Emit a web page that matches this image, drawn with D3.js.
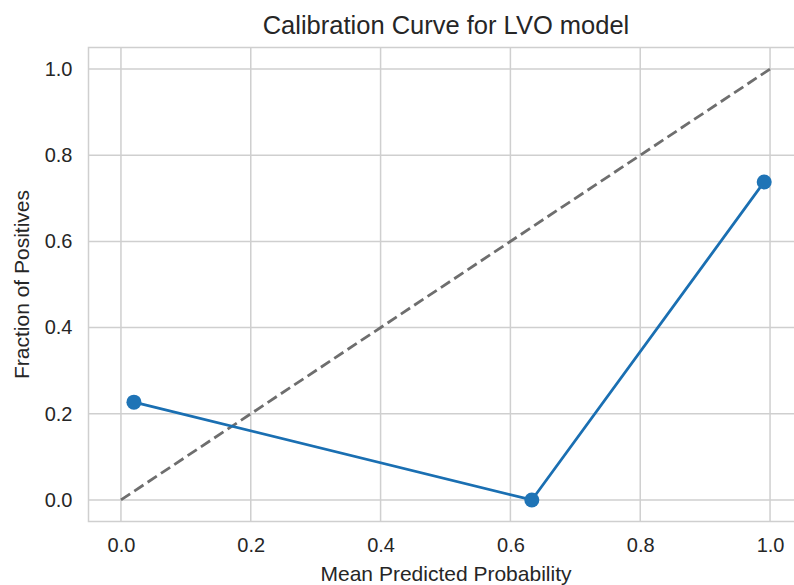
<!DOCTYPE html>
<html>
<head>
<meta charset="utf-8">
<script src="https://cdn.jsdelivr.net/npm/d3@7"></script>
<style>
  body { margin: 0; background: #fff; }
  text { font-family: "Liberation Sans", Arial, sans-serif; fill: #262626; }
</style>
</head>
<body>
<div id="chart"></div>
<script>
// calibration points
var meanPredicted = [0.02, 0.633, 0.991];
var fractionPositives = [0.227, 0.0, 0.738];
var perfectLine = [0, 1];
var xTicks = [0.0, 0.2, 0.4, 0.6, 0.8, 1.0];
var yTicks = [0.0, 0.2, 0.4, 0.6, 0.8, 1.0];

var width = 794, height = 585;
var margin = {left: 88.5, right: -8.5, top: 47.5, bottom: 63.5};

var svg = d3.select("#chart").append("svg")
  .attr("width", width)
  .attr("height", height);

var x = d3.scaleLinear().domain([-0.05, 1.05])
  .range([margin.left, width - margin.right]);
var y = d3.scaleLinear().domain([-0.05, 1.05])
  .range([height - margin.bottom, margin.top]);

// grid
var grid = svg.append("g");
grid.selectAll(".gx").data(xTicks).enter().append("line")
  .attr("x1", d => x(d)).attr("x2", d => x(d))
  .attr("y1", y(-0.05)).attr("y2", y(1.05))
  .style("stroke", "#cfcfcf").style("stroke-width", 1.5);
grid.selectAll(".gy").data(yTicks).enter().append("line")
  .attr("x1", x(-0.05)).attr("x2", x(1.05))
  .attr("y1", d => y(d)).attr("y2", d => y(d))
  .style("stroke", "#cfcfcf").style("stroke-width", 1.5);

// frame
svg.append("rect")
  .attr("x", x(-0.05)).attr("y", y(1.05))
  .attr("width", x(1.05) - x(-0.05))
  .attr("height", y(-0.05) - y(1.05))
  .attr("fill", "none")
  .style("stroke", "#cfcfcf").style("stroke-width", 1.5);

// axes (text only, matplotlib style with no tick marks)
var xAxis = svg.append("g")
  .attr("transform", "translate(0," + (y(-0.05) + 8) + ")")
  .call(d3.axisBottom(x).tickValues(xTicks).tickFormat(d3.format(".1f")).tickSize(0).tickPadding(8));
var yAxis = svg.append("g")
  .attr("transform", "translate(" + (x(-0.05) - 14) + ",0)")
  .call(d3.axisLeft(y).tickValues(yTicks).tickFormat(d3.format(".1f")).tickSize(0).tickPadding(2));
svg.selectAll(".domain").remove();
svg.selectAll(".tick text")
  .style("font-size", "20px")
  .style("font-family", "Liberation Sans, Arial, sans-serif")
  .attr("fill", "#262626");

// perfectly calibrated diagonal
svg.append("path")
  .datum(perfectLine)
  .attr("d", d3.line().x(d => x(d)).y(d => y(d)))
  .attr("fill", "none")
  .style("stroke", "#6e6e6e")
  .style("stroke-width", 2.8)
  .style("stroke-dasharray", "11,5");

// model curve
var pts = meanPredicted.map((d, i) => [d, fractionPositives[i]]);
svg.append("path")
  .datum(pts)
  .attr("d", d3.line().x(d => x(d[0])).y(d => y(d[1])))
  .attr("fill", "none")
  .style("stroke", "#1a6fb2")
  .style("stroke-width", 2.8);
svg.selectAll(".pt").data(pts).enter().append("circle")
  .attr("cx", d => x(d[0]))
  .attr("cy", d => y(d[1]))
  .attr("r", 7.5)
  .attr("fill", "#1f74b6");

// labels
svg.append("text")
  .attr("x", 446).attr("y", 34)
  .attr("text-anchor", "middle")
  .style("font-size", "25.5px")
  .text("Calibration Curve for LVO model");
svg.append("text")
  .attr("x", 446).attr("y", 581)
  .attr("text-anchor", "middle")
  .style("font-size", "21px")
  .text("Mean Predicted Probability");
svg.append("text")
  .attr("transform", "translate(29," + y(0.5) + ") rotate(-90)")
  .attr("text-anchor", "middle")
  .style("font-size", "21px")
  .text("Fraction of Positives");
</script>
</body>
</html>
